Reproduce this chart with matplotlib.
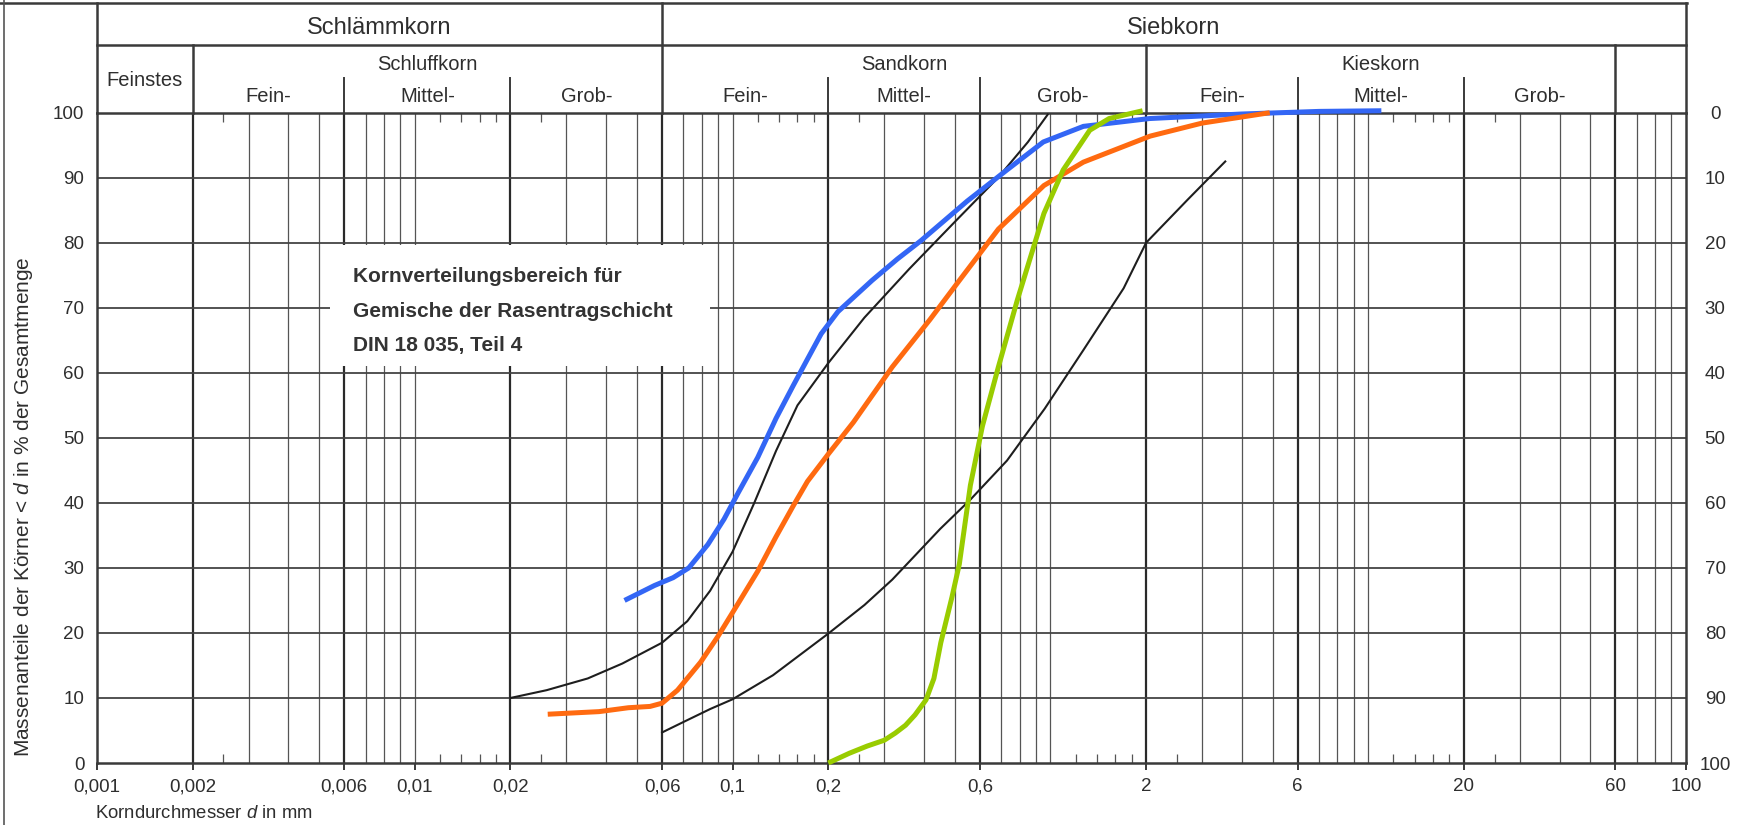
import numpy as np
import matplotlib
matplotlib.use("Agg")
import matplotlib.pyplot as plt
from matplotlib.patches import Rectangle
from matplotlib.lines import Line2D

plt.rcParams['font.family'] = ['Liberation Sans', 'DejaVu Sans']
plt.rcParams['mathtext.fontset'] = 'custom'
plt.rcParams['mathtext.rm'] = 'Liberation Sans'
plt.rcParams['mathtext.it'] = 'Liberation Sans:italic'

# Grenzlinien DIN 18 035 Teil 4 (Korndurchmesser in mm, Massenanteil in %)
grenze_oben_d = [0.02, 0.026, 0.035, 0.045, 0.06, 0.072, 0.085, 0.1, 0.117, 0.137,
                 0.16, 0.2, 0.26, 0.36, 0.5, 0.684, 0.85, 0.98]
grenze_oben_p = [10.0, 11.2, 13.0, 15.3, 18.5, 21.8, 26.5, 32.5, 40.0, 48.0,
                 55.0, 61.5, 68.5, 76.0, 83.2, 90.0, 95.5, 99.7]

grenze_unten_d = [0.06, 0.07, 0.085, 0.1, 0.134, 0.2, 0.26, 0.318, 0.45, 0.56,
                  0.73, 0.96, 1.27, 1.7, 2.0, 2.7, 3.55]
grenze_unten_p = [4.7, 6.3, 8.3, 9.8, 13.5, 19.9, 24.3, 28.2, 36.0, 40.5,
                  46.5, 54.5, 63.5, 73.0, 80.0, 86.6, 92.5]

# Sieblinien der Proben
blau_d = [0.0457, 0.0568, 0.065, 0.0728, 0.0836, 0.094, 0.104, 0.12, 0.137, 0.155,
          0.172, 0.19, 0.2145, 0.2745, 0.33, 0.391, 0.547, 0.73, 0.95, 1.27,
          2.05, 4.0, 7.0, 11.0]
blau_p = [25.0, 27.3, 28.5, 30.0, 33.6, 37.5, 41.5, 47.0, 53.0, 58.0,
          62.1, 66.0, 69.4, 74.2, 77.5, 80.3, 86.4, 91.2, 95.5, 97.9,
          99.1, 99.8, 100.2, 100.3]

orange_d = [0.0262, 0.038, 0.047, 0.055, 0.06, 0.0671, 0.0793, 0.09, 0.104, 0.12,
            0.137, 0.155, 0.172, 0.2, 0.24, 0.318, 0.418, 0.517, 0.686, 0.954,
            1.27, 2.06, 3.0, 4.9]
orange_p = [7.5, 7.9, 8.5, 8.7, 9.2, 11.2, 15.5, 19.5, 24.5, 29.5,
            34.8, 39.5, 43.3, 47.5, 52.4, 60.9, 68.2, 74.2, 82.1, 88.8,
            92.4, 96.4, 98.4, 100.0]

gruen_d = [0.2, 0.233, 0.265, 0.30, 0.325, 0.35, 0.375, 0.406, 0.43, 0.452,
           0.49, 0.517, 0.56, 0.611, 0.686, 0.787, 0.954, 1.097, 1.33, 1.53, 1.95]
gruen_p = [0.0, 1.5, 2.6, 3.5, 4.6, 5.8, 7.4, 9.7, 13.0, 18.5,
           25.5, 30.6, 42.7, 51.8, 60.9, 71.2, 84.5, 91.2, 97.3, 99.1, 100.3]

x_ticks = [0.001, 0.002, 0.006, 0.01, 0.02, 0.06, 0.1, 0.2, 0.6, 2, 6, 20, 60, 100]
x_labels = ["0,001", "0,002", "0,006", "0,01", "0,02", "0,06", "0,1", "0,2", "0,6",
            "2", "6", "20", "60", "100"]

# Kopfzeilen des Formblatts
haupt_gruppen = [("Schlämmkorn", 0.001, 0.06), ("Siebkorn", 0.06, 100)]
korn_gruppen = [("Feinstes", 0.001, 0.002), ("Schluffkorn", 0.002, 0.06),
                ("Sandkorn", 0.06, 2), ("Kieskorn", 2, 60)]
unter_gruppen = [(0.002, 0.006), (0.006, 0.02), (0.02, 0.06),
                 (0.06, 0.2), (0.2, 0.6), (0.6, 2),
                 (2, 6), (6, 20), (20, 60)]
unter_namen = ["Fein-", "Mittel-", "Grob-"]

W, H = 1740, 825
linie = "#3a3a3a"
schrift = "#2e2e2e"

fig = plt.figure(figsize=(W / 100, H / 100), dpi=100)
ax = fig.add_axes([97 / W, 1 - 763 / H, (1686 - 97) / W, (763 - 112.7) / H])
ax.set_xscale("log")
ax.set_xlim(0.001, 100)
ax.set_ylim(0, 100)


def y_px(p):
    # Pixelzeile -> Wert in %, fuer die Kopfzeilen oberhalb der Achse
    return (763 - p) / 6.503


# senkrechte Linien des Netzes
for e in range(-3, 2):
    for m in range(2, 11):
        d = m * 10.0 ** e
        if d >= 100:
            continue
        dick = m in (2, 6)
        ax.vlines(d, 0, 100, color="#2a2a2a" if dick else "#555555",
                  lw=1.6 if dick else 0.9, zorder=1)
    for m in (1.2, 1.4, 1.6, 1.8, 2.5):
        d = m * 10.0 ** e
        if d < 0.002:
            continue
        ax.vlines(d, 0, 1.4, color="#555555", lw=0.9, zorder=1)
        ax.vlines(d, 98.6, 100, color="#555555", lw=0.9, zorder=1)

# waagerechte Linien
for p in range(10, 100, 10):
    ax.hlines(p, 0.001, 100, color="#444444", lw=1.3, zorder=1)

for s in ax.spines.values():
    s.set_color(linie)
    s.set_linewidth(1.8)

# weisses Feld fuer die Beschriftung
ax.add_patch(Rectangle((0.0054, 61.0), 0.085 - 0.0054, 18.7,
                       facecolor="white", edgecolor="none", zorder=2))
for txt, yy in zip(["Kornverteilungsbereich für", "Gemische der Rasentragschicht",
                    "DIN 18 035, Teil 4"], [74.8, 69.5, 64.2]):
    ax.text(0.00638, yy, txt, fontsize=15, fontweight="bold", color="#333333",
            va="center", ha="left", zorder=3)

# Kurven
ax.plot(grenze_oben_d, grenze_oben_p, color="#1e1e1e", lw=1.5, zorder=3)
ax.plot(grenze_unten_d, grenze_unten_p, color="#1e1e1e", lw=1.5, zorder=3)
ax.plot(blau_d, blau_p, color="#3366f5", lw=3.6, solid_capstyle="butt",
        solid_joinstyle="round", zorder=4, clip_on=False)
ax.plot(orange_d, orange_p, color="#ff6a10", lw=3.6, solid_capstyle="butt",
        solid_joinstyle="round", zorder=4, clip_on=False)
ax.plot(gruen_d, gruen_p, color="#99cc00", lw=3.6, solid_capstyle="butt",
        solid_joinstyle="round", zorder=5, clip_on=False)

# Kopf: Linien
kw = dict(color=linie, lw=1.8, clip_on=False, zorder=1)
y_top, y_mid, y_sub = y_px(3), y_px(45), y_px(78)
ax.plot([0.001, 100], [y_mid, y_mid], **kw)
for d in (0.001, 0.06, 100):
    ax.plot([d, d], [100, y_top], **kw)
for d in (0.002, 2, 60):
    ax.plot([d, d], [100, y_mid], **kw)
for d in (0.006, 0.02, 0.2, 0.6, 6, 20):
    ax.plot([d, d], [100, y_sub], color=linie, lw=1.4, clip_on=False, zorder=1)
fig.add_artist(Line2D([0, 1687 / W], [1 - 3 / H] * 2, color=linie, lw=1.8))
fig.add_artist(Line2D([4 / W] * 2, [0, 1], color="#555555", lw=1.2))

# Kopf: Texte
for name, a, b in haupt_gruppen:
    ax.text(np.sqrt(a * b), y_px(28), name, fontsize=17, color=schrift,
            ha="center", va="center")
for name, a, b in korn_gruppen:
    yy = y_px(81) if name == "Feinstes" else y_px(65)
    ax.text(np.sqrt(a * b), yy, name, fontsize=14.5, color=schrift,
            ha="center", va="center")
for i, (a, b) in enumerate(unter_gruppen):
    ax.text(np.sqrt(a * b), y_px(97), unter_namen[i % 3], fontsize=14.5,
            color=schrift, ha="center", va="center")

# Achsen
ax.set_xticks(x_ticks)
ax.set_xticklabels(x_labels)
ax.xaxis.set_minor_locator(matplotlib.ticker.NullLocator())
ax.tick_params(axis="x", length=5, width=1.4, color=linie, pad=6,
               labelsize=13.5, labelcolor=schrift)
ax.set_yticks(range(0, 101, 10))
ax.tick_params(axis="y", length=0, pad=9, labelsize=13.5, labelcolor=schrift)

ax2 = ax.twinx()
ax2.set_ylim(0, 100)
ax2.set_yticks(range(0, 101, 10))
ax2.set_yticklabels([str(100 - v) for v in range(0, 101, 10)])
ax2.tick_params(axis="y", length=0, pad=21, labelsize=13.5, labelcolor=schrift)
for lbl in ax2.get_yticklabels():
    lbl.set_horizontalalignment("center")
for s in ax2.spines.values():
    s.set_visible(False)

fig.text(24 / W, 1 - 507 / H, "Massenanteile der Körner < $d$ in % der Gesamtmenge",
         rotation=90, fontsize=15, color=schrift, ha="center", va="center")
fig.text(95 / W, 1 - 813 / H, "Korndurchmesser $d$ in mm", fontsize=13.3,
         color=schrift, ha="left", va="center")

fig.savefig("out.png", dpi=100, facecolor="white")
